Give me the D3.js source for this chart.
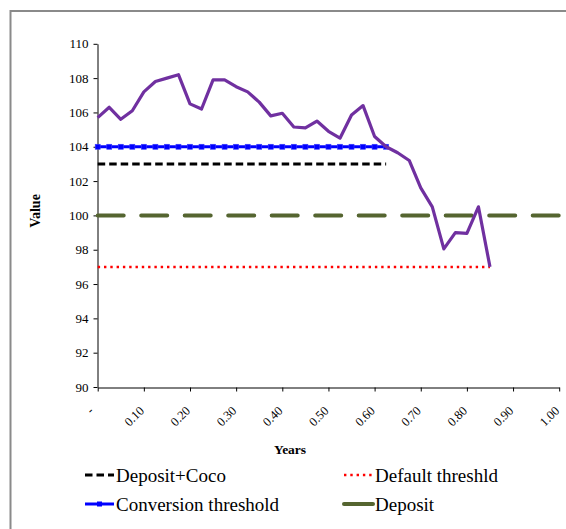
<!DOCTYPE html>
<html>
<head>
<meta charset="utf-8">
<script src="https://cdn.jsdelivr.net/npm/d3@7"></script>
<style>
  html, body { margin: 0; padding: 0; background: #fff; }
  svg { display: block; }
  text { font-family: "Liberation Serif", "Times New Roman", serif; fill: #000; }
</style>
</head>
<body>
<svg id="chart" width="566" height="529"></svg>
<script>
// Time grid (years) for the simulated value path
const years = [0, 0.025, 0.05, 0.075, 0.1, 0.125, 0.15, 0.175, 0.2, 0.225,
  0.25, 0.275, 0.3, 0.325, 0.35, 0.375, 0.4, 0.425, 0.45, 0.475,
  0.5, 0.525, 0.55, 0.575, 0.6, 0.625, 0.65, 0.675, 0.7, 0.725,
  0.75, 0.775, 0.8, 0.825, 0.85];

// Simulated asset value path
const assetValue = [105.7, 106.3, 105.6, 106.1, 107.2, 107.8, 108.0, 108.2, 106.5, 106.2,
  107.9, 107.9, 107.5, 107.2, 106.6, 105.8, 105.95, 105.15, 105.1, 105.5,
  104.9, 104.5, 105.85, 106.4, 104.6, 104.0, 103.65, 103.2, 101.6, 100.5,
  98.05, 99.0, 98.95, 100.5, 97.0];

// Horizontal reference levels and how far (in years) each one runs
const depositCocoLevel = 103, depositCocoEnd = 0.625;
const conversionLevel = 104, conversionEnd = 0.625;
const defaultLevel = 97, defaultEnd = 0.85;
const depositLevel = 100, depositEnd = 1.0;

// Axis ticks
const yTicks = [90, 92, 94, 96, 98, 100, 102, 104, 106, 108, 110];
const xTicks = [0, 0.1, 0.2, 0.3, 0.4, 0.5, 0.6, 0.7, 0.8, 0.9, 1.0];
const xTickLabels = ["-", "0.10", "0.20", "0.30", "0.40", "0.50", "0.60", "0.70", "0.80", "0.90", "1.00"];

const SERIF = "Liberation Serif, Times New Roman, serif";
const svg = d3.select("#chart");

// Chart frame
svg.append("rect")
  .attr("x", 10.5).attr("y", 11)
  .attr("width", 700).attr("height", 700)
  .attr("fill", "none")
  .attr("stroke", "#8a8a8a")
  .attr("stroke-width", 2);

const x = d3.scaleLinear().domain([0, 1]).range([97.7, 559.2]);
const y = d3.scaleLinear().domain([90, 110]).range([387, 43.8]);

// Y axis
const yAxis = svg.append("g")
  .attr("transform", "translate(97.5,0)")
  .call(d3.axisLeft(y).tickValues(yTicks).tickSize(4).tickSizeOuter(0).tickPadding(5)
    .tickFormat(d3.format("d")));
yAxis.attr("font-family", SERIF).attr("font-size", 13);
yAxis.select(".domain").attr("stroke", "#000");
yAxis.selectAll(".tick line").attr("stroke", "#000");

// X axis
const xAxis = svg.append("g")
  .attr("transform", "translate(0,387.5)")
  .call(d3.axisBottom(x).tickValues(xTicks).tickSize(4).tickSizeOuter(0)
    .tickFormat((d, i) => xTickLabels[i]));
xAxis.attr("font-family", SERIF).attr("font-size", 12.5);
xAxis.select(".domain").attr("stroke", "#000");
xAxis.selectAll(".tick line").attr("stroke", "#000");
xAxis.selectAll(".tick text")
  .attr("text-anchor", "end")
  .attr("dy", null)
  .attr("y", null)
  .attr("transform", (d, i) => i === 0 ? "translate(-4,24) rotate(-45)" : "translate(0.5,24) rotate(-45)");

// Axis titles
svg.append("text")
  .attr("x", 290).attr("y", 454)
  .attr("text-anchor", "middle")
  .attr("font-family", SERIF)
  .attr("font-size", 13.5).attr("font-weight", "bold")
  .text("Years");
svg.append("text")
  .attr("transform", "translate(40,211) rotate(-90)")
  .attr("text-anchor", "middle")
  .attr("font-family", SERIF)
  .attr("font-size", 14).attr("font-weight", "bold")
  .text("Value");

const line = d3.line().x(d => x(d[0])).y(d => y(d[1]));

// Deposit (long olive dashes)
svg.append("path")
  .attr("d", line([[0, depositLevel], [depositEnd, depositLevel]]))
  .attr("fill", "none").attr("stroke", "#556530")
  .attr("stroke-width", 4).attr("stroke-linecap", "round")
  .attr("stroke-dasharray", "26,17.5");

// Default threshold (red dots)
svg.append("path")
  .attr("d", line([[0, defaultLevel], [defaultEnd, defaultLevel]]))
  .attr("fill", "none").attr("stroke", "#ff0000")
  .attr("stroke-width", 2.5)
  .attr("stroke-dasharray", "2.4,3.9");

// Deposit + Coco (black short dashes)
svg.append("path")
  .attr("d", line([[0, depositCocoLevel], [depositCocoEnd, depositCocoLevel]]))
  .attr("fill", "none").attr("stroke", "#000")
  .attr("stroke-width", 3)
  .attr("stroke-dasharray", "7.5,4");

// Conversion threshold (blue with square markers)
const convPts = years.filter(t => t <= conversionEnd + 1e-9).map(t => [t, conversionLevel]);
svg.append("path")
  .attr("d", line(convPts))
  .attr("fill", "none").attr("stroke", "#0000ff")
  .attr("stroke-width", 3);
svg.selectAll(".conv-marker").data(convPts).enter().append("rect")
  .attr("class", "conv-marker")
  .attr("x", d => x(d[0]) - 2.5).attr("y", d => y(d[1]) - 2.5)
  .attr("width", 5).attr("height", 5)
  .attr("fill", "#0000ff").attr("stroke", "#3a3aff").attr("stroke-width", 0.6);

// Asset value path (purple)
svg.append("path")
  .attr("d", line(years.map((t, i) => [t, assetValue[i]])))
  .attr("fill", "none").attr("stroke", "#7030a0")
  .attr("stroke-width", 3.2).attr("stroke-linejoin", "round");

// Legend
const legendItems = [
  { label: "Deposit+Coco", x: 85, y: 475, stroke: "#000", width: 3, dash: "7.5,4", marker: false },
  { label: "Default threshld", x: 344, y: 475, stroke: "#ff0000", width: 2.5, dash: "2.4,3.9", marker: false },
  { label: "Conversion threshold", x: 85, y: 504, stroke: "#0000ff", width: 3, dash: null, marker: true },
  { label: "Deposit", x: 344, y: 504, stroke: "#556530", width: 4, dash: null, marker: false }
];
const lg = svg.append("g").attr("font-family", SERIF);
legendItems.forEach(it => {
  lg.append("line")
    .attr("x1", it.x).attr("x2", it.x + 29)
    .attr("y1", it.y).attr("y2", it.y)
    .attr("stroke", it.stroke).attr("stroke-width", it.width)
    .attr("stroke-dasharray", it.dash)
    .attr("stroke-linecap", it.label === "Deposit" ? "round" : "butt");
  if (it.marker) {
    lg.append("rect")
      .attr("x", it.x + 14.5 - 2.5).attr("y", it.y - 2.5)
      .attr("width", 5).attr("height", 5).attr("fill", "#0000ff");
  }
  lg.append("text")
    .attr("x", it.x + 31).attr("y", it.y + 7)
    .attr("font-size", 19)
    .text(it.label);
});
</script>
</body>
</html>
